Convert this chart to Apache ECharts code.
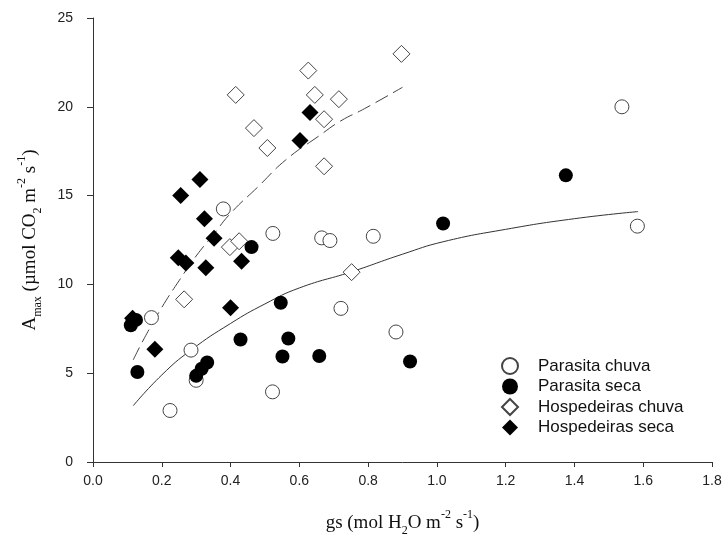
<!DOCTYPE html>
<html>
<head>
<meta charset="utf-8">
<script src="https://cdn.jsdelivr.net/npm/echarts@6/dist/echarts.min.js"></script>
<style>html,body{margin:0;padding:0;background:#fff}#c{width:725px;height:542px}</style>
</head>
<body>
<div id="c"></div>
<script>
// Data
var pcX = [0.17, 0.224, 0.285, 0.30, 0.379, 0.523, 0.522, 0.665, 0.689, 0.721, 0.815, 0.881, 1.538, 1.583];
var pcY = [8.13, 2.9, 6.3, 4.6, 14.25, 12.87, 3.95, 12.62, 12.47, 8.65, 12.71, 7.32, 20.0, 13.28];

var psX = [0.11, 0.125, 0.129, 0.30, 0.316, 0.332, 0.429, 0.461, 0.546, 0.551, 0.568, 0.658, 0.922, 1.018, 1.375];
var psY = [7.7, 8.0, 5.07, 4.85, 5.25, 5.6, 6.9, 12.1, 8.97, 5.94, 6.95, 5.97, 5.66, 13.43, 16.14];

var hcX = [0.265, 0.398, 0.425, 0.415, 0.468, 0.507, 0.626, 0.645, 0.672, 0.672, 0.715, 0.752, 0.897];
var hcY = [9.16, 12.1, 12.43, 20.67, 18.8, 17.68, 22.04, 20.67, 19.3, 16.65, 20.43, 10.69, 22.98];

var hsX = [0.115, 0.18, 0.248, 0.255, 0.27, 0.311, 0.324, 0.328, 0.352, 0.40, 0.432, 0.602, 0.631];
var hsY = [8.1, 6.35, 11.5, 15.0, 11.2, 15.9, 13.7, 10.94, 12.6, 8.69, 11.3, 18.1, 19.68];

// Fitted curves
var fitPX = [0.117, 0.2, 0.285, 0.4, 0.5, 0.6, 0.75, 0.9, 1.018, 1.2, 1.4, 1.585];
var fitPY = [3.17, 4.9, 6.3, 7.8, 8.9, 9.8, 10.7, 11.7, 12.4, 13.1, 13.7, 14.1];

var fitHX = [0.117, 0.15, 0.2, 0.25, 0.3, 0.35, 0.4, 0.48, 0.56, 0.66, 0.72, 0.79, 0.9];
var fitHY = [5.75, 7.0, 8.7, 10.2, 11.6, 12.8, 14.0, 15.5, 17.0, 18.4, 19.2, 19.9, 21.1];

var names = ['Parasita chuva', 'Parasita seca', 'Hospedeiras chuva', 'Hospedeiras seca'];
var xTicks = ['0.0','0.2','0.4','0.6','0.8','1.0','1.2','1.4','1.6','1.8'];

function pairs(xs, ys) { return xs.map(function (x, i) { return [x, ys[i]]; }); }

var sans = 'Liberation Sans, Arial, sans-serif';
var serif = 'Liberation Serif, Times New Roman, serif';
var rich = {
  n: {fontFamily: serif, fontSize: 19, lineHeight: 28, color: '#111'},
  sub: {fontFamily: serif, fontSize: 12, lineHeight: 12, verticalAlign: 'bottom', color: '#111'},
  sup: {fontFamily: serif, fontSize: 12, lineHeight: 13, verticalAlign: 'top', color: '#111'}
};

var openStyle = {color: '#fff', borderColor: '#444', borderWidth: 1, opacity: 1};
var fillStyle = {color: '#000', borderColor: '#000', borderWidth: 0, opacity: 1};

var chart = echarts.init(document.getElementById('c'), null, {renderer: 'canvas'});
chart.setOption({
  animation: false,
  backgroundColor: '#fff',
  grid: {left: 93, right: 13, top: 18, bottom: 79},
  xAxis: {
    type: 'value', min: 0, max: 1.8, interval: 0.2,
    name: '{n|gs (mol H}{sub|2}{n|O m}{sup|-2}{n| s}{sup|-1}{n|)}',
    nameLocation: 'middle', nameGap: 47,
    nameTextStyle: {rich: rich},
    axisLine: {lineStyle: {color: '#333', width: 1}},
    axisTick: {show: true, inside: false, length: 5, lineStyle: {color: '#333'}},
    axisLabel: {margin: 12, fontSize: 14, fontFamily: sans, color: '#222',
      formatter: function (v) { return xTicks[Math.round(v / 0.2)]; }},
    splitLine: {show: false}
  },
  yAxis: {
    type: 'value', min: 0, max: 25, interval: 5,
    name: '{n|A}{sub|max}{n| (µmol CO}{sub|2}{n| m}{sup|-2}{n| s}{sup|-1}{n|)}',
    nameLocation: 'middle', nameGap: 49, nameRotate: 90,
    nameTextStyle: {rich: rich},
    axisLine: {show: true, lineStyle: {color: '#333', width: 1}},
    axisTick: {show: true, inside: false, length: 6, lineStyle: {color: '#333'}},
    axisLabel: {margin: 20, fontSize: 14, fontFamily: sans, color: '#222'},
    splitLine: {show: false}
  },
  legend: {
    orient: 'vertical', left: 496, top: 352,
    itemWidth: 16, itemHeight: 16, itemGap: 3,
    data: names,
    textStyle: {fontSize: 17, fontFamily: sans, color: '#111', lineHeight: 16, padding: [0, 0, 0, 15]}
  },
  series: [
    {type: 'line', name: 'fitP', data: pairs(fitPX, fitPY), smooth: true, showSymbol: false,
     lineStyle: {color: '#333', width: 1}, z: 1},
    {type: 'line', name: 'fitH', data: pairs(fitHX, fitHY), smooth: true, showSymbol: false,
     lineStyle: {color: '#444', width: 1, type: [14, 6]}, z: 1},
    {type: 'scatter', name: names[2], data: pairs(hcX, hcY), symbol: 'diamond', symbolSize: 17, itemStyle: openStyle, z: 2},
    {type: 'scatter', name: names[3], data: pairs(hsX, hsY), symbol: 'diamond', symbolSize: 17, itemStyle: fillStyle, z: 2},
    {type: 'scatter', name: names[0], data: pairs(pcX, pcY), symbol: 'circle', symbolSize: 14, itemStyle: openStyle, z: 3},
    {type: 'scatter', name: names[1], data: pairs(psX, psY), symbol: 'circle', symbolSize: 14, itemStyle: fillStyle, z: 3}
  ]
});
</script>
</body>
</html>
